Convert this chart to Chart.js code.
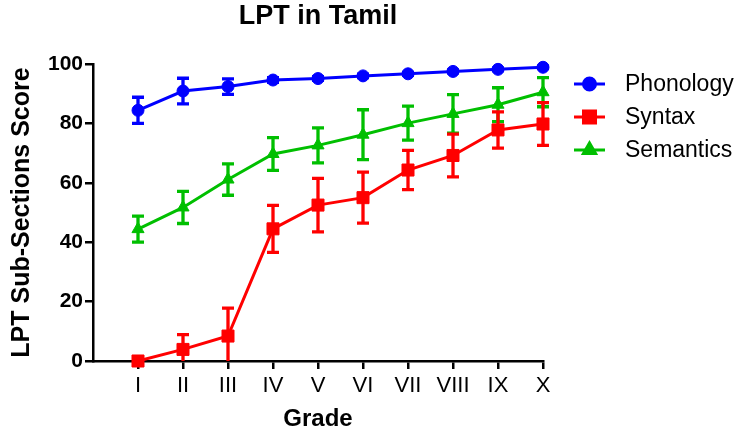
<!DOCTYPE html>
<html>
<head>
<meta charset="utf-8">
<script src="https://cdn.jsdelivr.net/npm/chart.js@4.4.1/dist/chart.umd.min.js"></script>
<style>
	html, body { margin: 0; padding: 0; background: #fff; }
</style>
</head>
<body>
<canvas id="lptChart" width="739" height="431"></canvas>
<script>
// grades on the x axis
var grades = ["I", "II", "III", "IV", "V", "VI", "VII", "VIII", "IX", "X"];

// mean scores and error (+/-) per grade
var phonology = [84.4, 90.9, 92.4, 94.6, 95.1, 96.0, 96.7, 97.5, 98.2, 98.9];
var phonologyErr = [4.4, 4.3, 2.6, 0.8, 0.6, 0.6, 0.5, 0.5, 0.4, 0.4];

var syntax = [0, 3.9, 8.4, 44.5, 52.5, 55.0, 64.3, 69.2, 77.8, 79.8];
var syntaxErr = [0, 5.0, 9.4, 7.9, 9.0, 8.6, 6.6, 7.2, 6.1, 7.2];

var semantics = [44.4, 51.7, 61.1, 69.7, 72.6, 76.2, 80.1, 83.2, 86.3, 90.5];
var semanticsErr = [4.4, 5.4, 5.3, 5.5, 5.9, 8.4, 5.7, 6.5, 5.7, 4.9];

var yTicks = [0, 20, 40, 60, 80, 100];

var FONT = "'Liberation Sans', Arial, sans-serif";

function toPoints(values) {
	return values.map(function (v, i) {
		return { x: i + 1, y: v };
	});
}

function makeSet(label, values, errors, color, style, radius) {
	return {
		label: label,
		data: toPoints(values),
		errors: errors,
		borderColor: color,
		backgroundColor: color,
		borderWidth: 3,
		pointStyle: style,
		pointRadius: radius,
		pointBorderWidth: 1,
		pointBackgroundColor: color,
		pointBorderColor: color,
		clip: false,
		tension: 0,
	};
}

// vertical error bars with caps, drawn right after each dataset
var errorBars = {
	id: "errorBars",
	afterDatasetDraw: function (chart, args) {
		var ds = chart.data.datasets[args.index];
		if (!ds.errors) return;
		var yScale = chart.scales.y;
		var ctx = chart.ctx;
		ctx.save();
		ctx.strokeStyle = ds.borderColor;
		ctx.lineWidth = 3.3;
		args.meta.data.forEach(function (pt, i) {
			var e = ds.errors[i];
			if (!e) return;
			var v = ds.data[i].y;
			var lowVal = v - e;
			var clipped = lowVal < 0;
			var top = yScale.getPixelForValue(v + e);
			var bottom = yScale.getPixelForValue(Math.max(0, lowVal));
			var x = pt.x;
			ctx.beginPath();
			ctx.moveTo(x, top);
			ctx.lineTo(x, bottom);
			ctx.moveTo(x - 6, top);
			ctx.lineTo(x + 6, top);
			if (!clipped) {
				ctx.moveTo(x - 6, bottom);
				ctx.lineTo(x + 6, bottom);
			}
			ctx.stroke();
		});
		ctx.restore();
	},
};

// title over the plot area and the line+marker legend on the right
var decorations = {
	id: "decorations",
	afterDraw: function (chart) {
		var ctx = chart.ctx;
		var area = chart.chartArea;
		ctx.save();
		ctx.fillStyle = "#000";
		ctx.font = "bold 27px " + FONT;
		ctx.textAlign = "center";
		ctx.textBaseline = "middle";
		ctx.fillText("LPT in Tamil", (area.left + area.right) / 2, 17);

		var rowY = [84, 117, 150];
		ctx.font = "23px " + FONT;
		ctx.textAlign = "left";
		chart.data.datasets.forEach(function (ds, i) {
			var y = rowY[i];
			ctx.strokeStyle = ds.borderColor;
			ctx.lineWidth = 3;
			ctx.beginPath();
			ctx.moveTo(574, y);
			ctx.lineTo(605, y);
			ctx.stroke();
			ctx.fillStyle = ds.borderColor;
			Chart.helpers.drawPoint(ctx, {
				pointStyle: ds.pointStyle,
				radius: ds.pointRadius,
				borderWidth: 1,
			}, 589.5, y);
			ctx.fill();
			ctx.fillStyle = "#000";
			ctx.fillText(ds.label, 625, y + 1);
		});
		ctx.restore();
	},
};

var chartConfig = {
	type: "line",
	data: {
		datasets: [
			makeSet("Phonology", phonology, phonologyErr, "#0000FF", "circle", 6),
			makeSet("Syntax", syntax, syntaxErr, "#FF0000", "rect", 8.5),
			makeSet("Semantics", semantics, semanticsErr, "#00BF00", "triangle", 7),
		],
	},
	options: {
		responsive: false,
		animation: false,
		layout: {
			padding: { left: 0, top: 64, right: 196, bottom: 0 },
		},
		plugins: {
			legend: { display: false },
			title: { display: false },
			tooltip: { enabled: false },
		},
		scales: {
			x: {
				type: "linear",
				min: 0,
				max: 10,
				afterBuildTicks: function (scale) {
					scale.ticks = grades.map(function (g, i) {
						return { value: i + 1 };
					});
				},
				afterFit: function (scale) {
					scale.height = 70;
				},
				ticks: {
					autoSkip: false,
					maxRotation: 0,
					padding: 4,
					color: "#000",
					font: { family: FONT, size: 22 },
					callback: function (value) {
						return grades[value - 1] || "";
					},
				},
				grid: {
					display: true,
					drawOnChartArea: false,
					drawTicks: true,
					tickLength: 8,
					color: "#000",
					lineWidth: 2.5,
				},
				border: { display: true, color: "#000", width: 2.5 },
				title: {
					display: true,
					text: "Grade",
					color: "#000",
					font: { family: FONT, size: 24, weight: "bold", lineHeight: 1 },
					padding: { top: 0, bottom: 0 },
				},
			},
			y: {
				min: 0,
				max: 100,
				afterBuildTicks: function (scale) {
					scale.ticks = yTicks.map(function (v) {
						return { value: v };
					});
				},
				afterFit: function (scale) {
					scale.width = 93;
				},
				ticks: {
					padding: 2,
					color: "#000",
					font: { family: FONT, size: 21, weight: "bold" },
				},
				grid: {
					display: true,
					drawOnChartArea: false,
					drawTicks: true,
					tickLength: 8,
					color: "#000",
					lineWidth: 2.5,
				},
				border: { display: true, color: "#000", width: 2.5 },
				title: {
					display: true,
					text: "LPT Sub-Sections Score",
					color: "#000",
					font: { family: FONT, size: 25, weight: "bold", lineHeight: 1.2 },
					padding: { top: 7, bottom: 0 },
				},
			},
		},
	},
	plugins: [errorBars, decorations],
};

var lptChart = new Chart(document.getElementById("lptChart"), chartConfig);
</script>
</body>
</html>
